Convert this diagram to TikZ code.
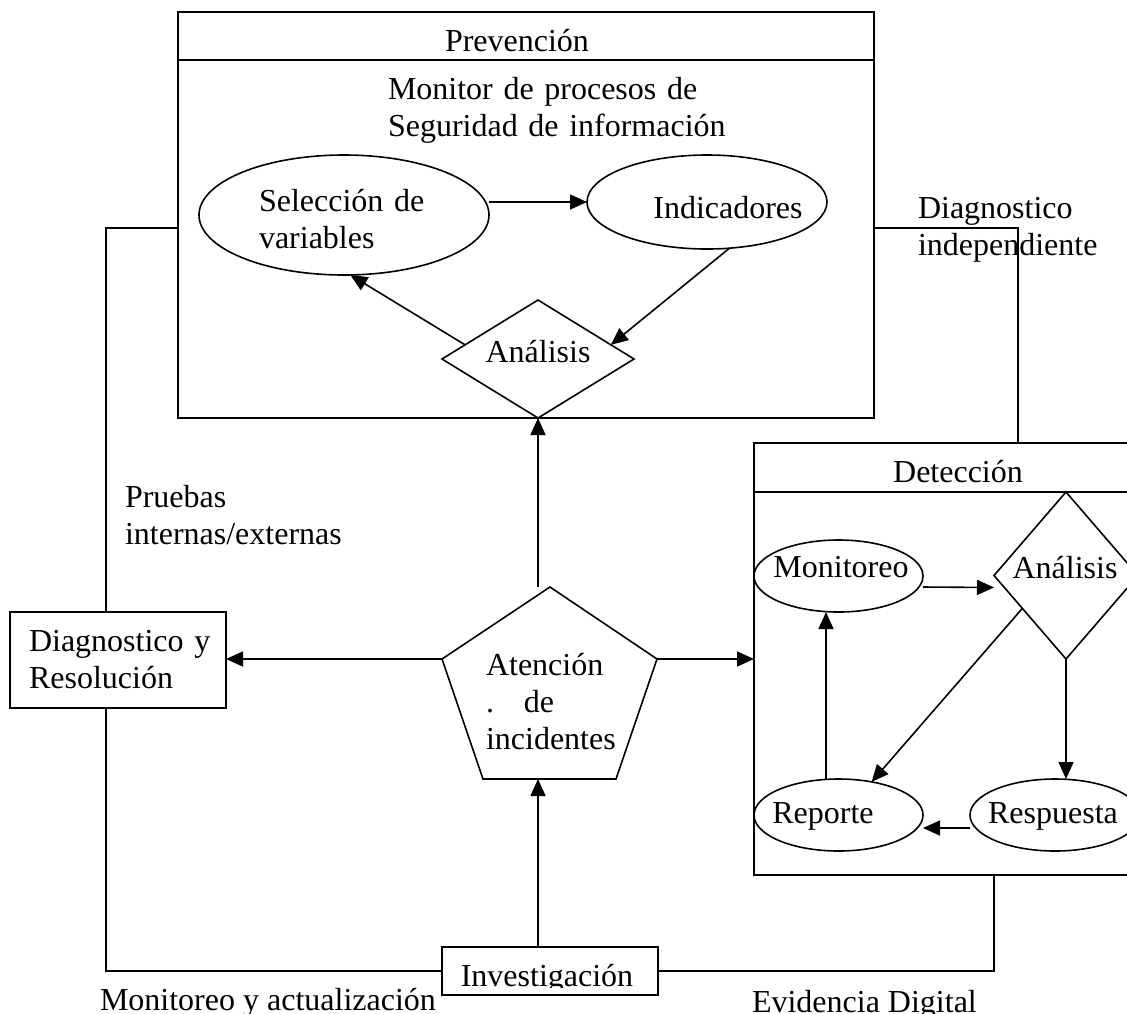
\documentclass[tikz,border=0pt]{standalone}
\usepackage{fontspec}
\setmainfont{Liberation Serif}
\usetikzlibrary{shapes.geometric, arrows.meta}

\begin{document}
\begin{tikzpicture}[x=1pt, y=-1pt,
  line width=1.6pt,
  every node/.style={font=\fontsize{32}{37}\selectfont, inner sep=0pt, outer sep=0pt},
  box/.style={draw, rectangle},
  oval/.style={draw, ellipse},
  rhomb/.style={draw, diamond},
  lbl/.style={anchor=base west, align=left, text width=#1},
  arr/.style={-{Triangle[length=17pt, width=15pt]}},
]
\useasboundingbox[fill=white] (0,0) rectangle (1127,1013);

% helper rows for the title dividers
\coordinate (pdiv) at (0,60);
\coordinate (ddiv) at (0,492);

% ---------- Prevencion block ----------
\node[box, minimum width=696pt, minimum height=406pt] (prev) at (526,215) {};
\draw (prev.west |- pdiv) -- (prev.east |- pdiv);
\node[anchor=base] (prevt) at (517,51) {Prevención};
\node[lbl=360pt] (mon) at (388,99) {Monitor de procesos de\\Seguridad de información};

\node[oval, minimum width=290pt, minimum height=120pt] (sel) at (344,215) {};
\node[lbl=200pt] (selt) at (259,211) {Selección de\\variables};

\node[oval, minimum width=240pt, minimum height=94pt] (ind) at (707,202) {};
\node[anchor=base] (indt) at (728,218) {Indicadores};

\node[rhomb, minimum width=192pt, minimum height=118pt] (ana1) at (538,359) {};
\node[anchor=base] (ana1t) at (538,362) {Análisis};

% ---------- Atencion de incidentes (pentagon) ----------
\coordinate (pT)  at (550,587);
\coordinate (pR)  at (657,659);
\coordinate (pBR) at (616,779);
\coordinate (pBL) at (483,779);
\coordinate (pL)  at (442,659);
\draw (pT) -- (pR) -- (pBR) -- (pBL) -- (pL) -- cycle;
\node[lbl=150pt] (aten) at (486,675) {Atención\\.\hspace{30pt}de\\incidentes};

% ---------- Diagnostico y Resolucion ----------
\node[box, minimum width=216pt, minimum height=96pt] (diag) at (118,660) {};
\node[lbl=200pt] (diagt) at (29,651) {Diagnostico y\\Resolución};

% ---------- Investigacion ----------
\node[box, minimum width=216pt, minimum height=48pt] (inv) at (550,971) {};
\begin{scope}
  \clip (inv.north west) rectangle ([yshift=8pt]inv.south east);
  \node[anchor=base] (invt) at (547,986) {Investigación};
\end{scope}

% ---------- Deteccion block ----------
\node[box, minimum width=396pt, minimum height=432pt] (det) at (952,659) {};
\draw (det.west |- ddiv) -- (det.east |- ddiv);
\node[anchor=base] (dett) at (958,482) {Detección};

\node[oval, minimum width=169pt, minimum height=72pt] (moni) at (838.5,576) {};
\node[anchor=base] (monit) at (841,577) {Monitoreo};

\node[rhomb, minimum width=144pt, minimum height=167pt] (ana2) at (1066,575.5) {};
\node[anchor=base] (ana2t) at (1065,578) {Análisis};

\node[oval, minimum width=169pt, minimum height=72pt] (rep) at (838.5,815) {};
\node[anchor=base] (rept) at (823,823) {Reporte};

\node[oval, minimum width=170pt, minimum height=72pt] (resp) at (1055,815) {};
\node[anchor=base] (respt) at (1053,823) {Respuesta};

% ---------- free labels ----------
\node[lbl=200pt] (dind) at (918,218) {Diagnostico\\independiente};
\node[lbl=260pt] (pru) at (125,507) {Pruebas\\internas/externas};
\node[anchor=base west] (mya) at (100,1010) {Monitoreo y actualización};
\node[anchor=base west] (evd) at (752,1012) {Evidencia Digital};

% ---------- connectors ----------
\draw[arr] (sel.east |- ind.west) -- (ind.west);
\draw[arr] (ind.-64) -- (ana1.11);
\draw[arr] (ana1.169) -- (sel.-84);
\draw[arr] (ana1.south |- pT) -- (ana1.south);
\draw[arr] (pL) -- (diag.east |- pL);
\draw[arr] (pR) -- (det.west |- pR);
\draw[arr] (ana1.south |- inv.north) -- (ana1.south |- pBL);
\draw ([xshift=-12pt]diag.north) |- ([yshift=-13pt]prev.west);
\draw ([xshift=-12pt]diag.south) |- (inv.west);
\draw (inv.east) -| ([xshift=42pt]det.south);
\draw ([yshift=-13pt]prev.east) -| ([xshift=66pt]det.north);

\draw[arr] ([yshift=-11pt]moni.east) -- ([yshift=-12pt]ana2.west);
\draw[arr] (ana2.217) -- (rep.45);
\draw[arr] (ana2.south) -- (ana2.south |- resp.north);
\draw[arr] ([xshift=-12.5pt]rep.north) -- ([xshift=-12.5pt]moni.south);
\draw[arr] ([yshift=-13pt]resp.west) -- ([yshift=-13pt]rep.east);
\end{tikzpicture}
\end{document}
